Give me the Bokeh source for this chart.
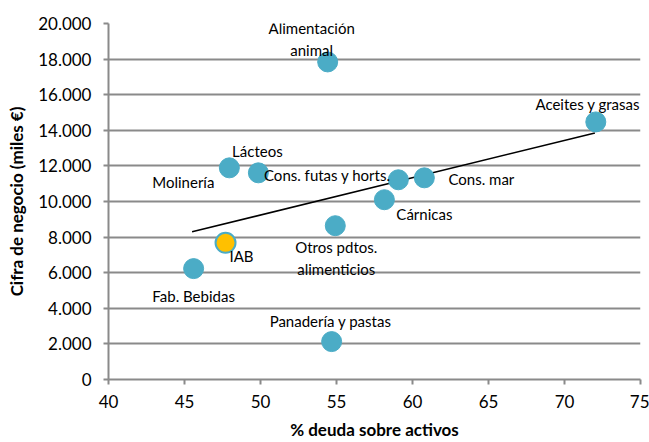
from bokeh.plotting import figure
from bokeh.models import ColumnDataSource, FixedTicker
from bokeh.core.properties import value
from bokeh.embed import file_html
from bokeh.resources import INLINE

# ---- data ----
sectors = ["Molinería", "Lácteos", "Cons. futas y horts.", "Cons. mar", "Cárnicas",
           "Otros pdtos.\nalimenticios", "Fab. Bebidas", "Panadería y pastas",
           "Alimentación\nanimal", "Aceites y grasas"]
deuda = [47.95, 49.86, 59.07, 60.78, 58.15, 54.92, 45.60, 54.68, 54.42, 72.06]
cifra = [11890, 11610, 11220, 11330, 10100, 8640, 6230, 2130, 17840, 14470]

iab_name = ["IAB"]
iab_deuda = [47.70]
iab_cifra = [7680]

trend_x = [45.5, 72.0]
trend_y = [8300, 13850]

x_ticks = [40, 45, 50, 55, 60, 65, 70, 75]
y_ticks = [0, 2000, 4000, 6000, 8000, 10000, 12000, 14000, 16000, 18000, 20000]
y_tick_labels = ["0", "2.000", "4.000", "6.000", "8.000", "10.000", "12.000",
                 "14.000", "16.000", "18.000", "20.000"]

x_title = "% deuda sobre activos"
y_title = "Cifra de negocio (miles €)"

# label placement (screen pixel offsets from each point)
lab_dx = [-46, -1, -71, 57, 40, 1, 0, -1, -16, -8]
lab_dy = [14, -22, -5, 1, 14, 32, 27, -21, -23, -18]

FONT = "Lato"
GRID = "#8a8a8a"
BLUE = "#4BACC6"

W, H = 649, 442
p = figure(width=W, height=H, x_range=(40, 75), y_range=(0, 20000),
           output_backend="svg", toolbar_location=None,
           min_border_left=108, min_border_right=9, min_border_top=23,
           min_border_bottom=62)
p.outline_line_color = None
p.background_fill_color = "white"

p.xaxis.ticker = FixedTicker(ticks=x_ticks)
p.yaxis.ticker = FixedTicker(ticks=y_ticks)
p.yaxis.major_label_overrides = {t: l for t, l in zip(y_ticks, y_tick_labels)}

for ax in (p.xaxis, p.yaxis):
    ax.axis_line_color = GRID
    ax.axis_line_width = 2
    ax.major_tick_line_color = GRID
    ax.major_tick_line_width = 2
    ax.major_tick_in = 0
    ax.major_tick_out = 5
    ax.minor_tick_line_color = None
    ax.major_label_text_font = FONT
    ax.major_label_text_font_size = "17px"
    ax.major_label_text_color = "#000000"
    ax.axis_label_text_font = FONT
    ax.axis_label_text_font_size = "17px"
    ax.axis_label_text_font_style = "bold"
    ax.axis_label_text_color = "#000000"

p.xaxis.axis_label = x_title
p.yaxis.axis_label = y_title
p.xaxis.major_label_standoff = 10
p.yaxis.major_label_standoff = 12
p.xaxis.axis_label_standoff = 8
p.yaxis.axis_label_standoff = 8

p.xgrid.grid_line_color = None
p.ygrid.grid_line_color = GRID
p.ygrid.grid_line_width = 2

# trend line
p.line(trend_x, trend_y, line_color="black", line_width=1.6)

src = ColumnDataSource(dict(x=deuda, y=cifra, name=sectors, dx=lab_dx, dy=lab_dy))
p.scatter("x", "y", source=src, size=20, fill_color=BLUE, line_color=BLUE)
iab_src = ColumnDataSource(dict(x=iab_deuda, y=iab_cifra, name=iab_name))
p.scatter("x", "y", source=iab_src, size=20, fill_color="#FFC000", line_color=BLUE, line_width=2)

p.text("x", "y", text="name", source=src, x_offset="dx", y_offset="dy",
       text_font=value(FONT), text_font_size="15px", text_align="center",
       text_baseline="middle", text_color="#000000", text_line_height=1.2)
p.text("x", "y", text="name", source=iab_src, x_offset=16, y_offset=13,
       text_font=value(FONT), text_font_size="15px", text_align="center",
       text_baseline="middle", text_color="#000000")

open("out.html", "w").write(file_html(p, INLINE))
